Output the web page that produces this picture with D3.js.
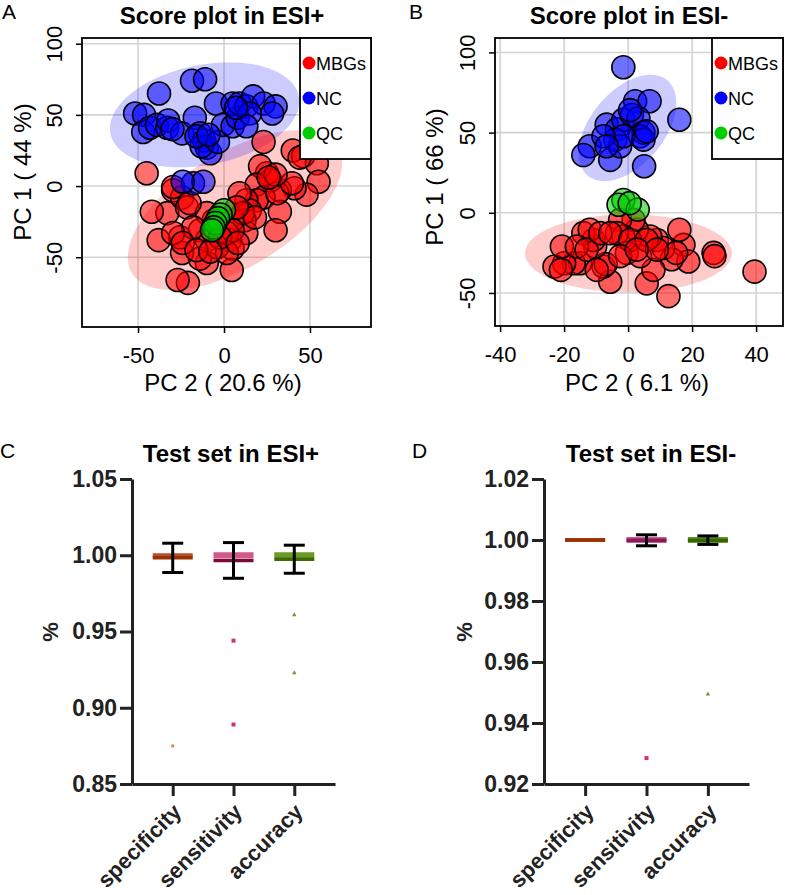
<!DOCTYPE html>
<html>
<head>
<meta charset="utf-8">
<script src="https://cdn.jsdelivr.net/npm/d3@7"></script>
<style>
  body { margin: 0; background: #fff; }
  svg { display: block; font-family: "Liberation Sans", Arial, sans-serif; }
</style>
</head>
<body>
<div id="chart"></div>
<script>
const width = 785;
const height = 895;

// ---- Score plot data (PC2, PC1) ----
const aMBGs = [[23,31],[40,25],[46,21],[54,16],[55,3],[48,-6],[41,-1.5],[32.5,-3],[25,9],[27,4],[21,14],[19,1],[23,-8],[19,-10],[13,-10],[15,-17],[9,-5],[32.5,-18],[30,-31],[12,-24],[13,-33],[5,-24],[3.5,-38],[5,-44],[4.5,-59],[-10,-54],[-14,-51],[-21,-68],[-27,-66],[-24.4,-47],[-25.6,-36],[-38,-38],[-33,-19],[-42,-18],[-45,9],[-29.6,-3],[-24.4,-8],[-21.5,-15],[-14,-31],[-10,-38],[-4,-43],[1.7,-47],[1.7,-33],[-6,-24],[-10,-19],[-18,-29],[-29.6,-33],[-24,-40],[-16,-45],[-29.6,-0.7],[11,-19],[18,-22],[7.5,-15],[5,-31],[-2.3,-36],[31,-5],[39.5,2],[30,8],[44,20],[26,6],[-20,-12],[8,-40],[-8,-46]];
const aNC = [[-37.8,65],[-18.6,74],[-11,75],[-4.7,58],[-51.7,51],[-46.5,50],[-47,38],[-43,41],[-39,43],[-33,41],[-32.5,46],[-24.4,37],[-17,48],[-14,37],[-11.6,32],[-10,27],[-8,23],[-13,28],[-3.5,31],[-0.6,43],[5,42],[8,48],[5,58],[9,58],[13,56],[17,63],[23,58],[30,56],[28,51],[15,51],[13,42],[-18,2],[-12,3],[-24,3],[-16,35],[-9,36],[7,55],[-30,40]];
const aQC = [[0,-17],[-2,-20],[-3.5,-22.5],[-5,-26],[-6,-29],[-7,-31]];

const bMBGs = [[39.5,-36.7],[26.7,-25],[27,-27],[17.3,-20],[16,-10.6],[18.8,-30.4],[13.6,-29],[12.6,-52],[5.8,-44],[7.9,-35.6],[9,-17],[11,-22],[6.9,-14.8],[2.7,-10.6],[1.7,-4.4],[-2.5,-4.4],[-1.5,-14.8],[-3.5,-12.7],[-0.4,-25],[-5.6,-43],[-7.7,-33.5],[-7,-32],[-10.3,-21],[-10.8,-17],[-14,-12.7],[-12,-10.6],[-15,-31.5],[-17,-31.5],[-20,-31.5],[-23,-33.5],[-20.7,-21],[-16,-21],[-13,-23],[-8.7,-12.7],[-5.6,-12.7],[0.6,-17],[3.75,-27],[-2.5,-27],[5.8,-17],[-9.8,-35.6],[-21,-35.6],[15,-25],[9,-23],[2.7,-23]];
const bNC = [[-1.5,90.8],[2.2,69.6],[6.7,69.6],[16,58],[5,29],[-12,41.5],[-14,36],[-5.6,33],[-6.7,55],[-3.5,52],[-1.5,58],[1.2,61],[3.2,59],[4.8,50],[3.75,47.7],[-4,45.6],[-2.5,41.5],[-1.5,47.7],[-7.7,47.7],[4.8,45.6],[5.8,50.8],[0.6,64],[-6.7,41.5]];
const bQC = [[-1.5,8],[-3,5],[3,2],[0.5,6]];

// confidence ellipses: centre plus tips of the two semi-axes (data units)
const aEllipses = [
  { group: "MBGs", center: [6.4,-16.9], major: [66.3,27.5], minor: [23.7,-51.1] },
  { group: "NC", center: [-11.3,50], major: [43.5,63], minor: [-5.8,15.5] }
];
const bEllipses = [
  { group: "MBGs", center: [0.1,-25.3], major: [32.4,-25.3], minor: [0.1,-49.6] },
  { group: "NC", center: [-0.2,52.9], major: [12.25,82.6], minor: [8.6,38.1] }
];

const groupNames = ["MBGs", "NC", "QC"];
const aXTicks = [-50, 0, 50];
const aYTicks = [-50, 0, 50, 100];
const bXTicks = [-40, -20, 0, 20, 40];
const bYTicks = [-50, 0, 50, 100];

// ---- Test set data ----
const categories = ["specificity", "sensitivity", "accuracy"];
const cMeans = [0.9983, 0.9966, 0.9974];
const cSDs = [0.0096, 0.0117, 0.0092];
const cOutliers = [["specificity", 0.875], ["sensitivity", 0.944], ["sensitivity", 0.889], ["accuracy", 0.961], ["accuracy", 0.923]];
const cYTicks = [0.85, 0.90, 0.95, 1.00, 1.05];

const dMeans = [1.0, 0.9999, 0.99995];
const dSDs = [0, 0.0018, 0.0014];
const dOutliers = [["sensitivity", 0.9285], ["accuracy", 0.9495]];
const dYTicks = [0.92, 0.94, 0.96, 0.98, 1.00, 1.02];

const groupColor = { MBGs: "#ff0000", NC: "#0000ff", QC: "#00cd00" };
const dotColor = { specificity: "#b5502c", sensitivity: "#d0588a", accuracy: "#6b9a2a" };
const outlierColor = { specificity: "#e07a55", sensitivity: "#cc3377", accuracy: "#6b9a2a" };
const cLineColor = { specificity: "#993300", sensitivity: "#7a0a3a", accuracy: "#3d6b00" };
const dLineColor = { specificity: "#993300", sensitivity: "#8b1a5a", accuracy: "#336600" };

let svg = d3.select("#chart").append("svg")
  .attr("width", width)
  .attr("height", height);

// Draw a PCA score plot
function scorePlot(p) {
  let g = svg.append("g");
  let x = d3.scaleLinear().domain(p.xDomain).range([p.left, p.right]);
  let y = d3.scaleLinear().domain(p.yDomain).range([p.bottom, p.top]);

  // grid
  g.selectAll(".gx").data(p.xTicks).enter().append("line")
    .attr("x1", d => x(d)).attr("x2", d => x(d))
    .attr("y1", p.top).attr("y2", p.bottom)
    .attr("stroke", "#d3d3d3").attr("stroke-width", 1.6);
  g.selectAll(".gy").data(p.yTicks).enter().append("line")
    .attr("y1", d => y(d)).attr("y2", d => y(d))
    .attr("x1", p.left).attr("x2", p.right)
    .attr("stroke", "#d3d3d3").attr("stroke-width", 1.6);

  // ellipses
  p.ellipses.forEach(e => {
    let pts = d3.range(0, 2 * Math.PI, Math.PI / 90).map(t => {
      let c = Math.cos(t), s = Math.sin(t);
      return [
        x(e.center[0] + c * (e.major[0] - e.center[0]) + s * (e.minor[0] - e.center[0])),
        y(e.center[1] + c * (e.major[1] - e.center[1]) + s * (e.minor[1] - e.center[1]))
      ];
    });
    g.append("path")
      .attr("d", d3.line()(pts) + "Z")
      .attr("fill", groupColor[e.group])
      .attr("fill-opacity", 0.2);
  });

  // points
  p.groups.forEach((vals, i) => {
    g.append("g").selectAll("circle").data(vals).enter().append("circle")
      .attr("cx", d => x(d[0]))
      .attr("cy", d => y(d[1]))
      .attr("r", 11.5)
      .attr("fill", groupColor[groupNames[i]])
      .attr("fill-opacity", 0.56)
      .attr("stroke", "#000")
      .attr("stroke-width", 1.6);
  });

  // frame
  g.append("rect")
    .attr("x", p.left).attr("y", p.top)
    .attr("width", p.right - p.left).attr("height", p.bottom - p.top)
    .attr("fill", "none").attr("stroke", "#000").attr("stroke-width", 1.8);

  // legend
  let lg = g.append("g").attr("transform", `translate(${p.right - 71},${p.top})`);
  lg.append("rect").attr("width", 71).attr("height", 121)
    .attr("fill", "#fff").attr("stroke", "#000").attr("stroke-width", 1.8);
  groupNames.forEach((name, i) => {
    lg.append("circle").attr("cx", 9).attr("cy", 25 + i * 35).attr("r", 6.5).attr("fill", groupColor[name]);
    lg.append("text").attr("x", 16).attr("y", 32 + i * 35)
      .style("font-size", "18px").text(name);
  });

  // axes
  let ya = g.append("g").attr("transform", `translate(${p.left},0)`)
    .call(d3.axisLeft(y).tickValues(p.yTicks).tickSize(6).tickFormat(d => String(d)));
  ya.select(".domain").remove();
  ya.selectAll("line").attr("stroke-width", 1.5);
  ya.selectAll("text")
    .attr("transform", "rotate(-90)")
    .attr("x", 0).attr("y", -20).attr("dy", 0)
    .attr("text-anchor", "middle")
    .attr("fill", "#000")
    .style("font-size", "22px");

  let xa = g.append("g").attr("transform", `translate(0,${p.bottom})`)
    .call(d3.axisBottom(x).tickValues(p.xTicks).tickSize(6).tickFormat(d => String(d)));
  xa.select(".domain").remove();
  xa.selectAll("line").attr("stroke-width", 1.5);
  xa.selectAll("text").attr("y", 36).attr("dy", 0).attr("fill", "#000").style("font-size", "22px");

  // labels
  g.append("text").attr("x", p.titleX).attr("y", 24)
    .attr("text-anchor", "middle").style("font-size", "24px").style("font-weight", "bold")
    .text(p.title);
  g.append("text").attr("x", p.letterX).attr("y", 19).style("font-size", "21px").text(p.letter);
  g.append("text").attr("x", p.xLabelX).attr("y", 391)
    .attr("text-anchor", "middle").style("font-size", "24px").text(p.xLabel);
  g.append("text").attr("transform", `translate(${p.yLabelX},${p.yLabelY}) rotate(-90)`)
    .attr("text-anchor", "middle").style("font-size", "24px").text(p.yLabel);
}

// Draw a test set scatter-dot plot with mean and SD
function testPlot(p) {
  let g = svg.append("g");
  let x = d3.scalePoint().domain(categories).range([p.left, p.right]).padding(0.67);
  let y = d3.scaleLinear().domain(p.yDomain).range([p.bottom, p.top]);

  // individual values at 1.00 pile up into a band
  g.selectAll(".band").data(categories).enter().append("rect")
    .attr("x", d => x(d) - 20).attr("width", 40)
    .attr("y", d => y(1) - (d === "specificity" ? 2 : 3))
    .attr("height", d => d === "specificity" ? 4 : 6)
    .attr("fill", d => dotColor[d]);

  // mean lines
  g.selectAll(".mean").data(categories).enter().append("line")
    .attr("x1", d => x(d) - 20).attr("x2", d => x(d) + 20)
    .attr("y1", (d, i) => y(p.means[i])).attr("y2", (d, i) => y(p.means[i]))
    .attr("stroke", d => p.lineColor[d]).attr("stroke-width", 3.5);

  // SD error bars
  categories.forEach((c, i) => {
    if (p.sds[i] === 0) return;
    let lo = y(p.means[i] - p.sds[i]), hi = y(p.means[i] + p.sds[i]);
    let eb = g.append("g").attr("stroke", "#000").attr("stroke-width", 3);
    eb.append("line").attr("x1", x(c)).attr("x2", x(c)).attr("y1", lo).attr("y2", hi);
    eb.append("line").attr("x1", x(c) - 10.5).attr("x2", x(c) + 10.5).attr("y1", lo).attr("y2", lo);
    eb.append("line").attr("x1", x(c) - 10.5).attr("x2", x(c) + 10.5).attr("y1", hi).attr("y2", hi);
  });

  // single low values
  p.outliers.forEach(o => {
    let cx = x(o[0]), cy = y(o[1]);
    if (o[0] === "specificity") {
      g.append("circle").attr("cx", cx).attr("cy", cy).attr("r", 1.6).attr("fill", outlierColor[o[0]]);
    } else if (o[0] === "sensitivity") {
      g.append("rect").attr("x", cx - 2).attr("y", cy - 2).attr("width", 4).attr("height", 4).attr("fill", outlierColor[o[0]]);
    } else {
      g.append("path").attr("d", `M${cx},${cy - 2.5}L${cx + 2.2},${cy + 1.5}L${cx - 2.2},${cy + 1.5}Z`).attr("fill", outlierColor[o[0]]);
    }
  });

  // axes
  let ya = g.append("g").attr("transform", `translate(${p.left},0)`)
    .call(d3.axisLeft(y).tickValues(p.yTicks).tickSize(12).tickSizeOuter(0).tickPadding(3).tickFormat(d3.format(".2f")));
  ya.selectAll("path, line").attr("stroke", "#222").attr("stroke-width", 3);
  ya.selectAll("text").attr("fill", "#222").style("font-size", "23px").style("font-weight", "bold");

  let xa = g.append("g").attr("transform", `translate(0,${p.bottom})`)
    .call(d3.axisBottom(x).tickSize(12).tickSizeOuter(0).tickFormat(""));
  xa.selectAll("path, line").attr("stroke", "#222").attr("stroke-width", 3);

  g.selectAll(".cat").data(categories).enter().append("text")
    .attr("transform", d => `translate(${x(d) + 10},${p.bottom + 29}) rotate(-45)`)
    .attr("text-anchor", "end")
    .attr("fill", "#222")
    .style("font-size", "22px").style("font-weight", "bold")
    .text(d => d);

  // labels
  g.append("text").attr("x", p.titleX).attr("y", 462)
    .attr("text-anchor", "middle").style("font-size", "24px").style("font-weight", "bold")
    .text(p.title);
  g.append("text").attr("x", p.letterX).attr("y", 458).style("font-size", "21px").text(p.letter);
  g.append("text").attr("transform", `translate(${p.pctX},632) rotate(-90)`)
    .attr("text-anchor", "middle").attr("fill", "#222")
    .style("font-size", "22px").style("font-weight", "bold").text("%");
}

scorePlot({
  left: 82, right: 371, top: 38, bottom: 327,
  xDomain: [-82.6, 85.5], yDomain: [-99, 104],
  xTicks: aXTicks, yTicks: aYTicks,
  groups: [aMBGs, aNC, aQC], ellipses: aEllipses,
  title: "Score plot in ESI+", titleX: 222, letter: "A", letterX: 2,
  xLabel: "PC 2 ( 20.6 %)", xLabelX: 223,
  yLabel: "PC 1 ( 44 %)", yLabelX: 31, yLabelY: 172
});

scorePlot({
  left: 495, right: 783, top: 38, bottom: 326,
  xDomain: [-41.6, 48.4], yDomain: [-70.6, 109],
  xTicks: bXTicks, yTicks: bYTicks,
  groups: [bMBGs, bNC, bQC], ellipses: bEllipses,
  title: "Score plot in ESI-", titleX: 629, letter: "B", letterX: 409,
  xLabel: "PC 2 ( 6.1 %)", xLabelX: 637,
  yLabel: "PC 1 ( 66 %)", yLabelX: 443, yLabelY: 177
});

testPlot({
  left: 132, right: 335, top: 479, bottom: 784,
  yDomain: [0.85, 1.05], yTicks: cYTicks,
  means: cMeans, sds: cSDs, outliers: cOutliers, lineColor: cLineColor,
  title: "Test set in ESI+", titleX: 231, letter: "C", letterX: 0, pctX: 58
});

testPlot({
  left: 544, right: 749, top: 479, bottom: 784,
  yDomain: [0.92, 1.02], yTicks: dYTicks,
  means: dMeans, sds: dSDs, outliers: dOutliers, lineColor: dLineColor,
  title: "Test set in ESI-", titleX: 651, letter: "D", letterX: 412, pctX: 472
});
</script>
</body>
</html>
